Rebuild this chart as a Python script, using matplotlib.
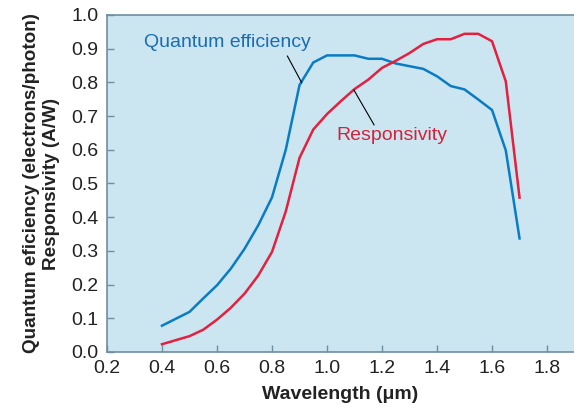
import matplotlib
matplotlib.use("Agg")
import matplotlib.pyplot as plt

plt.rcParams["font.family"] = ["Liberation Sans", "DejaVu Sans"]

wavelength = [0.40, 0.50, 0.55, 0.60, 0.65, 0.70, 0.75, 0.80, 0.85, 0.90, 0.95,
              1.00, 1.05, 1.10, 1.15, 1.20, 1.25, 1.30, 1.35, 1.40, 1.45, 1.50,
              1.55, 1.60, 1.65, 1.70]
quantum_eff = [0.078, 0.119, 0.159, 0.198, 0.247, 0.306, 0.376, 0.459, 0.600, 0.792, 0.859,
               0.880, 0.880, 0.880, 0.870, 0.870, 0.856, 0.848, 0.840, 0.818, 0.789, 0.779,
               0.749, 0.718, 0.598, 0.337]
responsivity = [0.023, 0.047, 0.066, 0.096, 0.131, 0.173, 0.227, 0.297, 0.417, 0.576, 0.660,
                0.706, 0.744, 0.780, 0.808, 0.843, 0.864, 0.887, 0.914, 0.928, 0.928, 0.944,
                0.944, 0.922, 0.803, 0.458]

x_ticks = [0.2, 0.4, 0.6, 0.8, 1.0, 1.2, 1.4, 1.6, 1.8]
y_ticks = [0.0, 0.1, 0.2, 0.3, 0.4, 0.5, 0.6, 0.7, 0.8, 0.9, 1.0]

BLUE = "#0a7cc4"
RED = "#e41f3f"
SPINE = "#6f8f9f"

fig = plt.figure(figsize=(5.74, 4.11), dpi=100)
ax = fig.add_axes([0.1864, 0.1436, 0.8136, 0.82])
ax.set_facecolor("#cbe5f1")

ax.plot(wavelength, quantum_eff, color=BLUE, lw=1.8)
ax.plot(wavelength, responsivity, color=RED, lw=1.8)

ax.set_xlim(0.2, 1.898)
ax.set_ylim(0.0, 1.0)
ax.set_xticks(x_ticks)
ax.set_xticklabels([f"{t:.1f}" for t in x_ticks])
ax.set_yticks(y_ticks)
ax.set_yticklabels([f"{t:.1f}" for t in y_ticks])
ax.tick_params(direction="in", length=5, width=1, color=SPINE,
               labelsize=14, labelcolor="#222222", pad=6)
for side in ["left", "bottom", "top"]:
    ax.spines[side].set_color(SPINE)
    ax.spines[side].set_linewidth(1.2)
ax.spines["right"].set_visible(False)

ax.set_xlabel("Wavelength (\u03bcm)", fontsize=14, fontweight="bold", color="#222222",
              labelpad=6)
ax.set_ylabel("Quantum eficiency (electrons/photon)\nResponsivity (A/W)",
              fontsize=13.6, fontweight="bold", color="#222222", labelpad=8,
              linespacing=1.25)

ax.text(0.636, 0.917, "Quantum efficiency", color="#1a6db3", fontsize=14,
        ha="center", va="center")
ax.plot([0.856, 0.908], [0.878, 0.799], color="black", lw=0.8)
ax.text(1.235, 0.642, "Responsivity", color="#d2233a", fontsize=14,
        ha="center", va="center")
ax.plot([1.098, 1.171], [0.777, 0.674], color="black", lw=0.8)

fig.savefig("out.png", dpi=100)
